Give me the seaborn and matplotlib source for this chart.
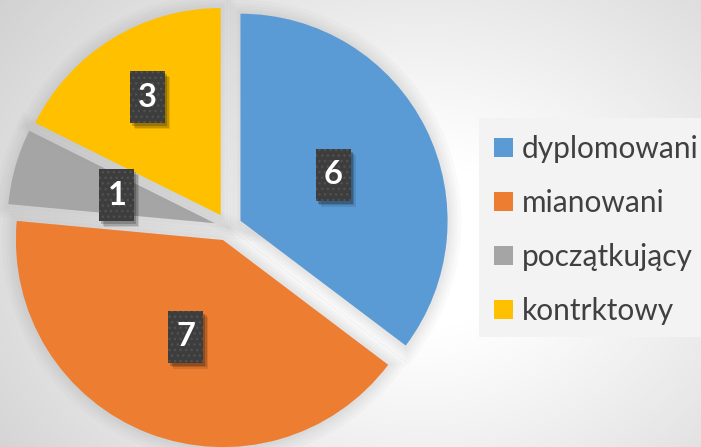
import numpy as np
import matplotlib.pyplot as plt
import matplotlib.patheffects as pe
from matplotlib.patches import Rectangle
import seaborn as sns

# data
categories = ["dyplomowani", "mianowani", "początkujący", "kontrktowy"]
counts = [6, 7, 1, 3]
colors = ["#5B9BD5", "#ED7D31", "#A5A5A5", "#FFC000"]

# label position along each wedge (fraction of radius)
label_frac = [0.50, 0.50, 0.49, 0.67]

sns.set_theme(style="white")
plt.rcParams["font.family"] = ["Lato", "DejaVu Sans"]

W, H = 701, 447
fig = plt.figure(figsize=(W / 100, H / 100), dpi=100)
ax = fig.add_axes([0, 0, 1, 1])

# soft radial background
yy, xx = np.mgrid[0:H, 0:W]
d = np.sqrt(((xx - 420) / 420.0) ** 2 + ((yy - 200) / 330.0) ** 2)
bg = 1 - 0.18 * np.clip(d - 0.25, 0, None) ** 1.1
ax.imshow(np.dstack([bg, bg, bg]), extent=(0, W, 0, H), origin="lower",
          zorder=0, aspect="auto", vmin=0, vmax=1)

cx, cy, R = 228, 220, 207
expl = 14  # pixels (pie explode is absolute)
wedges, _ = ax.pie(counts, colors=colors, startangle=90, counterclock=False,
                   explode=[expl] * len(counts), radius=R, center=(cx, cy),
                   wedgeprops=dict(linewidth=0, zorder=3))

shadow = [pe.Stroke(linewidth=w, foreground="#909090", alpha=0.045)
          for w in (20, 15, 11, 7, 4)] + [pe.Normal()]
for w in wedges:
    w.set_path_effects(shadow)

# value labels in dark boxes
bw, bh = 35, 52
for w, n, f in zip(wedges, counts, label_frac):
    th = np.deg2rad((w.theta1 + w.theta2) / 2)
    px = w.center[0] + f * R * np.cos(th)
    py = w.center[1] + f * R * np.sin(th)
    for k, a in ((5, 0.10), (3.5, 0.15), (2, 0.2)):
        ax.add_patch(Rectangle((px - bw / 2 + k, py - bh / 2 - k - 1), bw, bh,
                               fc="black", ec="none", alpha=a, zorder=4))
    ax.add_patch(Rectangle((px - bw / 2, py - bh / 2), bw, bh, fc="#3d3d3d",
                           ec="#515151", lw=0, hatch="...", zorder=5))
    ax.text(px, py, str(n), color="white", fontsize=23.5, fontweight="bold",
            ha="center", va="center", zorder=6)

# legend panel
ax.add_patch(Rectangle((479, 110), W - 479, 219, fc="#f3f3f3", ec="none", zorder=2))
leg = ax.legend(wedges, categories, loc="upper left",
                bbox_to_anchor=(494 / W, 312 / H), frameon=False,
                fontsize=21.5, labelcolor="#404040", labelspacing=0.87,
                handlelength=0.62, handleheight=0.62, handletextpad=0.3,
                borderpad=0, borderaxespad=0)
leg.set_zorder(7)
for h in leg.legend_handles:
    h.set_path_effects([])

ax.set_xlim(0, W)
ax.set_ylim(0, H)
ax.axis("off")

fig.savefig("out.png", dpi=100)
